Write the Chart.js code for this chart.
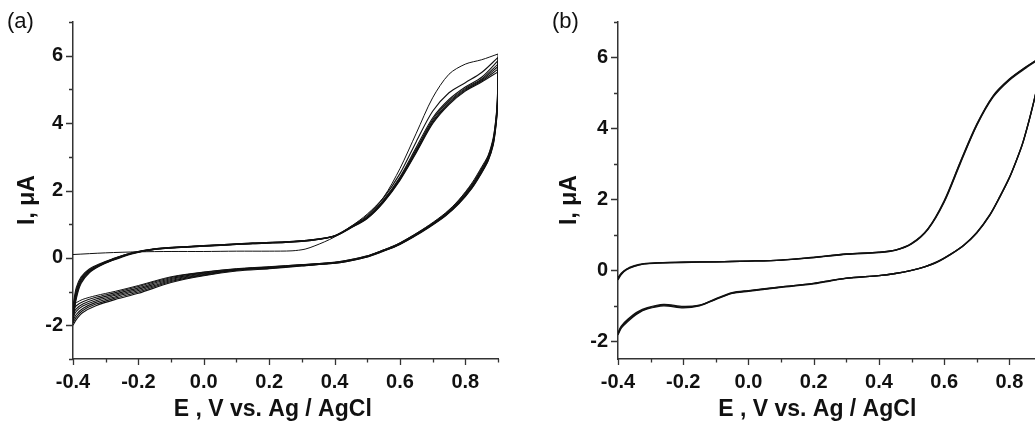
<!DOCTYPE html>
<html><head><meta charset="utf-8">
<script src="https://cdn.jsdelivr.net/npm/chart.js@4.4.0/dist/chart.umd.min.js"></script>
<style>
html,body{margin:0;padding:0;background:#fff;overflow:hidden;width:1035px;height:424px;}
#wa{position:absolute;left:0;top:0;width:520px;height:424px;}
#wb{position:absolute;left:520px;top:0;width:545px;height:424px;}
</style></head><body>
<div id="wa"><canvas id="ca" width="520" height="424"></canvas></div>
<div id="wb"><canvas id="cb" width="545" height="424"></canvas></div>
<script>
// ---------- Panel (a) data : potential E (V) and current I (µA) ----------
const aScan1E = [-0.4,-0.3,-0.2,-0.1,0.0,0.1,0.2,0.27,0.31,0.34,0.37,0.4,0.45,0.5,0.55,0.6,0.65,0.7,0.75,0.8,0.85,0.9];
const aScan1I = [0.1,0.15,0.18,0.19,0.19,0.2,0.2,0.21,0.26,0.36,0.48,0.62,0.93,1.3,1.8,2.65,3.7,4.75,5.45,5.75,5.88,6.05];

const aFwdE = [-0.4,-0.39,-0.375,-0.35,-0.32,-0.28,-0.22,-0.15,-0.05,0.05,0.15,0.25,0.33,0.4,0.45,0.5,0.55,0.6,0.65,0.7,0.75,0.8,0.85,0.9];
const aFwd2I = [-1.42,-0.88,-0.56,-0.33,-0.18,-0.03,0.15,0.27,0.34,0.39,0.44,0.48,0.54,0.66,0.93,1.26,1.78,2.5,3.45,4.35,4.9,5.2,5.5,5.95];
const aFwd3I = [-1.55,-0.95,-0.6,-0.36,-0.2,-0.04,0.15,0.27,0.34,0.39,0.44,0.48,0.54,0.66,0.92,1.22,1.72,2.4,3.28,4.15,4.7,5.07,5.36,5.85];
const aFwd4I = [-1.65,-1.02,-0.64,-0.38,-0.21,-0.05,0.14,0.26,0.33,0.38,0.43,0.47,0.53,0.65,0.91,1.2,1.7,2.37,3.22,4.1,4.65,5.03,5.31,5.75];
const aFwd5I = [-1.75,-1.08,-0.67,-0.4,-0.22,-0.06,0.13,0.26,0.33,0.38,0.43,0.47,0.53,0.65,0.9,1.19,1.68,2.34,3.18,4.05,4.61,5.0,5.28,5.68];
const aFwd6I = [-1.85,-1.15,-0.71,-0.42,-0.24,-0.07,0.13,0.25,0.32,0.37,0.42,0.46,0.52,0.64,0.9,1.18,1.66,2.32,3.15,4.01,4.58,4.97,5.25,5.6];
const aFwd7I = [-1.93,-1.22,-0.75,-0.44,-0.25,-0.08,0.12,0.25,0.32,0.37,0.42,0.46,0.52,0.64,0.89,1.17,1.65,2.3,3.12,3.98,4.55,4.95,5.22,5.52];

const aRevE = [0.9,0.898,0.893,0.885,0.87,0.85,0.82,0.78,0.74,0.69,0.64,0.59,0.54,0.5,0.45,0.4,0.3,0.2,0.1,0.0,-0.1,-0.2,-0.27,-0.33,-0.37,-0.39,-0.4];
const aRev1I = [6.05,4.7,4.1,3.55,3.05,2.7,2.22,1.72,1.34,0.98,0.67,0.4,0.2,0.06,-0.05,-0.13,-0.2,-0.26,-0.32,-0.42,-0.56,-0.82,-0.99,-1.12,-1.23,-1.33,-1.42];
const aRev2I = [5.95,4.65,4.05,3.5,3.01,2.66,2.18,1.7,1.32,0.96,0.66,0.39,0.2,0.06,-0.05,-0.13,-0.2,-0.27,-0.33,-0.43,-0.58,-0.85,-1.03,-1.17,-1.3,-1.42,-1.55];
const aRev3I = [5.85,4.6,4.0,3.46,2.98,2.62,2.15,1.67,1.3,0.95,0.65,0.38,0.19,0.05,-0.06,-0.14,-0.21,-0.28,-0.34,-0.45,-0.61,-0.89,-1.07,-1.22,-1.37,-1.51,-1.65];
const aRev4I = [5.75,4.55,3.96,3.42,2.95,2.59,2.12,1.65,1.28,0.94,0.64,0.37,0.18,0.04,-0.07,-0.15,-0.22,-0.29,-0.35,-0.47,-0.64,-0.93,-1.11,-1.27,-1.43,-1.59,-1.75];
const aRev5I = [5.68,4.5,3.92,3.39,2.92,2.56,2.1,1.63,1.27,0.93,0.63,0.37,0.18,0.04,-0.07,-0.15,-0.22,-0.3,-0.36,-0.49,-0.67,-0.97,-1.15,-1.32,-1.5,-1.68,-1.85];
const aRev6I = [5.6,4.45,3.88,3.36,2.9,2.54,2.08,1.62,1.26,0.92,0.62,0.36,0.17,0.03,-0.08,-0.16,-0.23,-0.31,-0.37,-0.51,-0.7,-1.01,-1.19,-1.37,-1.56,-1.76,-1.93];
const aRev7I = [5.52,4.4,3.85,3.33,2.88,2.52,2.06,1.6,1.25,0.91,0.61,0.35,0.16,0.03,-0.08,-0.16,-0.24,-0.32,-0.39,-0.53,-0.73,-1.05,-1.23,-1.42,-1.62,-1.83,-2.0];

// ---------- Panel (b) data ----------
const bFwdE = [-0.4,-0.39,-0.375,-0.35,-0.32,-0.28,-0.2,-0.1,0.0,0.1,0.2,0.3,0.4,0.45,0.5,0.55,0.6,0.65,0.7,0.75,0.8,0.85,0.9];
const bFwd1I = [-0.2,-0.08,0.03,0.13,0.19,0.21,0.23,0.24,0.26,0.29,0.36,0.45,0.5,0.56,0.74,1.15,1.92,3.02,4.08,4.88,5.36,5.7,6.0];
const bFwd2I = [-0.24,-0.1,0.02,0.12,0.18,0.21,0.23,0.24,0.26,0.29,0.36,0.46,0.51,0.57,0.75,1.16,1.94,3.05,4.1,4.9,5.38,5.72,6.02];
const bFwd3I = [-0.27,-0.12,0.01,0.11,0.18,0.2,0.22,0.24,0.26,0.29,0.37,0.46,0.51,0.57,0.76,1.17,1.96,3.07,4.12,4.92,5.39,5.73,6.03];

const bRevE = [0.9,0.895,0.885,0.875,0.86,0.84,0.82,0.8,0.77,0.74,0.7,0.66,0.62,0.58,0.54,0.5,0.45,0.4,0.3,0.2,0.1,0.0,-0.05,-0.1,-0.15,-0.2,-0.26,-0.31,-0.34,-0.37,-0.39,-0.4];
const bRev1I = [6.0,5.6,5.15,4.75,4.2,3.55,3.05,2.6,2.05,1.55,1.05,0.7,0.45,0.24,0.1,0.0,-0.09,-0.15,-0.22,-0.37,-0.47,-0.57,-0.63,-0.8,-0.98,-1.02,-0.96,-1.05,-1.17,-1.38,-1.57,-1.76];
const bRev2I = [6.02,5.62,5.16,4.76,4.21,3.56,3.06,2.61,2.06,1.56,1.06,0.71,0.45,0.24,0.1,0.0,-0.09,-0.15,-0.22,-0.37,-0.47,-0.58,-0.64,-0.81,-0.99,-1.04,-0.98,-1.07,-1.2,-1.41,-1.6,-1.79];
const bRev3I = [6.03,5.63,5.17,4.77,4.22,3.57,3.07,2.62,2.07,1.57,1.07,0.71,0.46,0.25,0.1,0.0,-0.09,-0.15,-0.23,-0.38,-0.48,-0.59,-0.65,-0.82,-1.0,-1.06,-1.0,-1.09,-1.22,-1.44,-1.63,-1.82];

// ---------- text / tick labels ----------
const xTitle = 'E , V vs. Ag / AgCl';
const yTitle = 'I, \u03BCA';
const xMajorLabels = ['-0.4','-0.2','0.0','0.2','0.4','0.6','0.8'];
const yMajorLabels = ['-2','0','2','4','6'];

const FONT = "'Liberation Sans', Arial, Helvetica, sans-serif";
const INK = '#111';

function pts(E, I) { return E.map((e, i) => ({x: e, y: I[i]})); }
function cycle(fE, fI, rE, rI, w) {
  return { data: pts(fE, fI).concat(pts(rE, rI)), showLine: true, borderColor: INK, borderWidth: w, pointRadius: 0, tension: 0.3, fill: false };
}

function fmtX(v) {
  if (Math.abs(v) < 1e-9) return '0.0';
  return (Math.round(v * 10) / 10).toFixed(1);
}

const tickPlugin = {
  id: 'cvDecor',
  afterDraw(chart, args, o) {
    const ctx = chart.ctx, xs = chart.scales.x, ys = chart.scales.y;
    ctx.save();
    ctx.strokeStyle = '#333';
    ctx.lineWidth = 1.3;
    ctx.beginPath();
    xs.ticks.forEach(t => {
      const px = Math.round(xs.getPixelForValue(t.value)) + 0.5;
      const major = xMajorLabels.includes(fmtX(t.value));
      ctx.moveTo(px, xs.top);
      ctx.lineTo(px, xs.top + (major ? 6 : 3.5));
    });
    ys.ticks.forEach(t => {
      const v = Math.round(t.value * 1000) / 1000;
      if (!Number.isInteger(v)) return;
      const py = Math.round(ys.getPixelForValue(v)) + 0.5;
      const major = yMajorLabels.includes(String(v));
      ctx.moveTo(ys.right, py);
      ctx.lineTo(ys.right - (major ? 7 : 4), py);
    });
    ctx.stroke();
    ctx.fillStyle = INK;
    ctx.font = '22px ' + FONT;
    ctx.textBaseline = 'alphabetic';
    ctx.textAlign = 'left';
    ctx.fillText(o.label, o.labelX, 28);
    ctx.restore();
  }
};

function makeChart(id, datasets, cfg) {
  return new Chart(document.getElementById(id), {
    type: 'scatter',
    data: { datasets },
    options: {
      responsive: false, animation: false, devicePixelRatio: 1,
      layout: { padding: { left: 0, top: 18, right: cfg.padRight, bottom: 0 } },
      plugins: { legend: { display: false }, tooltip: { enabled: false }, cvDecor: { label: cfg.label, labelX: cfg.labelX } },
      scales: {
        x: {
          type: 'linear', min: -0.4, max: 0.9,
          afterFit: s => { s.height = 65; },
          ticks: { stepSize: 0.1, includeBounds: false, autoSkip: false, maxRotation: 0, padding: 11, color: INK,
                   font: { family: FONT, size: 20, weight: 'bold' },
                   callback: v => { const l = fmtX(v); return xMajorLabels.includes(l) ? l : ''; } },
          grid: { display: false, drawTicks: false },
          border: { display: true, color: '#333', width: 1.5 },
          title: { display: true, text: xTitle + '    ', color: INK, font: { family: FONT, size: 23, weight: 'bold' }, padding: { top: 0, bottom: 1 } }
        },
        y: {
          type: 'linear', min: cfg.yMin, max: 7,
          afterFit: s => { s.width = cfg.yWidth; },
          ticks: { stepSize: 1, includeBounds: false, autoSkip: false, padding: 10, color: INK,
                   font: { family: FONT, size: 20, weight: 'bold' },
                   callback: v => { const r = Math.round(v * 1000) / 1000; return yMajorLabels.includes(String(r)) ? String(r) : ''; } },
          grid: { display: false, drawTicks: false },
          border: { display: true, color: '#333', width: 1.5 },
          title: { display: true, text: yTitle + '   ', color: INK, font: { family: FONT, size: 23, weight: 'bold' }, padding: { top: cfg.yTitlePad, bottom: 0 } }
        }
      }
    },
    plugins: [tickPlugin]
  });
}

makeChart('ca', [
  cycle(aScan1E, aScan1I, aRevE, aRev1I, 1),
  cycle(aFwdE, aFwd2I, aRevE, aRev2I, 1.1),
  cycle(aFwdE, aFwd3I, aRevE, aRev3I, 1.1),
  cycle(aFwdE, aFwd4I, aRevE, aRev4I, 1.1),
  cycle(aFwdE, aFwd5I, aRevE, aRev5I, 1.1),
  cycle(aFwdE, aFwd6I, aRevE, aRev6I, 1.1),
  cycle(aFwdE, aFwd7I, aRevE, aRev7I, 1.1)
], { yMin: -3, yWidth: 73, padRight: 22, yTitlePad: 14, label: '(a)', labelX: 7 });

makeChart('cb', [
  cycle(bFwdE, bFwd1I, bRevE, bRev1I, 1.3),
  cycle(bFwdE, bFwd2I, bRevE, bRev2I, 1.3),
  cycle(bFwdE, bFwd3I, bRevE, bRev3I, 1.3)
], { yMin: -2.5, yWidth: 98, padRight: 23, yTitlePad: 36, label: '(b)', labelX: 32 });
</script></body></html>
